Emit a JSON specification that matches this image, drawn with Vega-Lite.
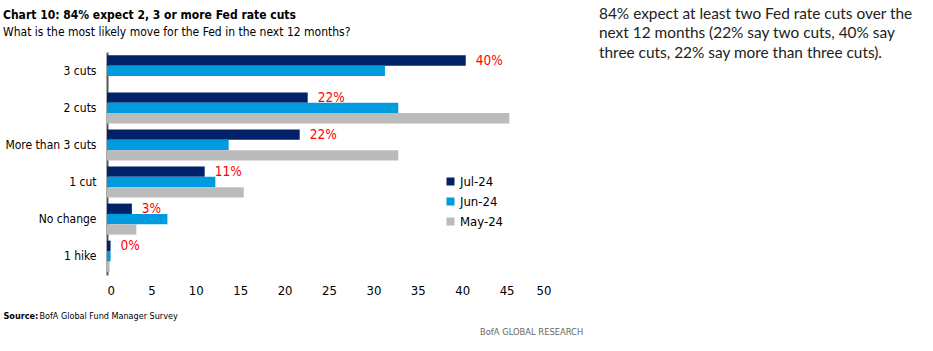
{
  "$schema": "https://vega.github.io/schema/vega-lite/v6.json",
  "padding": {"left": 3, "top": 6, "right": 0, "bottom": 0},
  "background": "white",
  "config": {
    "font": "DejaVu Sans Condensed, sans-serif",
    "view": {"stroke": null}
  },
  "title": {
    "text": "BofA GLOBAL RESEARCH",
    "orient": "bottom",
    "anchor": "start",
    "frame": "bounds",
    "dx": 477,
    "offset": 8,
    "fontSize": 9.3,
    "fontWeight": "normal",
    "color": "#666666"
  },
  "spacing": 48,
  "hconcat": [
    {
      "width": 444,
      "height": 223,
      "title": {
        "text": "Chart 10: 84% expect 2, 3 or more Fed rate cuts",
        "subtitle": "What is the most likely move for the Fed in the next 12 months?",
        "anchor": "start",
        "frame": "bounds",
        "fontSize": 12,
        "fontWeight": "bold",
        "color": "#000000",
        "subtitleFontSize": 12,
        "subtitleColor": "#000000",
        "subtitlePadding": 5,
        "offset": 13
      },
      "data": {
        "values": [
          {"move": "3 cuts", "month": "Jul-24", "value": 40.4, "label": "40%"},
          {"move": "3 cuts", "month": "Jun-24", "value": 31.3},
          {"move": "2 cuts", "month": "Jul-24", "value": 22.6, "label": "22%"},
          {"move": "2 cuts", "month": "Jun-24", "value": 32.8},
          {"move": "2 cuts", "month": "May-24", "value": 45.3},
          {"move": "More than 3 cuts", "month": "Jul-24", "value": 21.7, "label": "22%"},
          {"move": "More than 3 cuts", "month": "Jun-24", "value": 13.7},
          {"move": "More than 3 cuts", "month": "May-24", "value": 32.8},
          {"move": "1 cut", "month": "Jul-24", "value": 11.0, "label": "11%"},
          {"move": "1 cut", "month": "Jun-24", "value": 12.2},
          {"move": "1 cut", "month": "May-24", "value": 15.4},
          {"move": "No change", "month": "Jul-24", "value": 2.8, "label": "3%"},
          {"move": "No change", "month": "Jun-24", "value": 6.8},
          {"move": "No change", "month": "May-24", "value": 3.3},
          {"move": "1 hike", "month": "Jul-24", "value": 0.4, "label": "0%"},
          {"move": "1 hike", "month": "Jun-24", "value": 0.4},
          {"move": "1 hike", "month": "May-24", "value": 0.3}
        ]
      },
      "encoding": {
        "y": {
          "field": "move",
          "type": "nominal",
          "sort": ["3 cuts", "2 cuts", "More than 3 cuts", "1 cut", "No change", "1 hike"],
          "scale": {"paddingInner": 0.163, "paddingOuter": 0.09},
          "axis": {
            "title": "Source:",
            "titleAngle": 0,
            "titleX": -104,
            "titleY": 263,
            "titleAlign": "left",
            "titleBaseline": "middle",
            "titleFontSize": 9,
            "titleFontWeight": "bold",
            "titleColor": "#000000",
            "labelFontSize": 12,
            "labelColor": "#000000",
            "labelPadding": 11,
            "ticks": false,
            "domainColor": "#555555",
            "domainWidth": 2
          }
        },
        "yOffset": {
          "field": "month",
          "type": "nominal",
          "scale": {"domain": ["Jul-24", "Jun-24", "May-24"]}
        },
        "x": {
          "field": "value",
          "type": "quantitative",
          "scale": {"domain": [0, 50]},
          "axis": {
            "values": [0, 5, 10, 15, 20, 25, 30, 35, 40, 45, 50],
            "grid": false,
            "domain": false,
            "ticks": false,
            "labelFontSize": 13,
            "labelColor": "#000000",
            "labelPadding": 9,
            "title": "BofA Global Fund Manager Survey",
            "titleX": -68,
            "titleY": 40,
            "titleAlign": "left",
            "titleBaseline": "middle",
            "titleFontSize": 9,
            "titleFontWeight": "normal",
            "titleColor": "#000000"
          }
        }
      },
      "layer": [
        {
          "mark": {"type": "bar"},
          "encoding": {
            "color": {
              "field": "month",
              "type": "nominal",
              "scale": {
                "domain": ["Jul-24", "Jun-24", "May-24"],
                "range": ["#012169", "#009ADE", "#BBBBBB"]
              },
              "legend": {
                "title": null,
                "orient": "none",
                "legendX": 337,
                "legendY": 123,
                "symbolType": "square",
                "symbolSize": 64,
                "symbolStrokeWidth": 0,
                "labelFontSize": 13,
                "labelColor": "#000000",
                "labelOffset": 3,
                "rowPadding": 6
              }
            }
          }
        },
        {
          "transform": [{"filter": "isValid(datum.label)"}],
          "mark": {
            "type": "text",
            "align": "left",
            "baseline": "middle",
            "dx": 10,
            "fontSize": 13.5,
            "color": "#FF0000"
          },
          "encoding": {"text": {"field": "label"}}
        }
      ]
    },
    {
      "width": 330,
      "height": 20,
      "data": {"values": [{}]},
      "mark": {"type": "text"},
      "encoding": {"text": {"value": ""}},
      "title": {
        "text": [
          "84% expect at least two Fed rate cuts over the",
          "next 12 months (22% say two cuts, 40% say",
          "three cuts, 22% say more than three cuts)."
        ],
        "anchor": "start",
        "frame": "group",
        "font": "Lato",
        "fontSize": 15.4,
        "fontWeight": "normal",
        "lineHeight": 19.5,
        "color": "#222222",
        "offset": -9
      }
    }
  ]
}
